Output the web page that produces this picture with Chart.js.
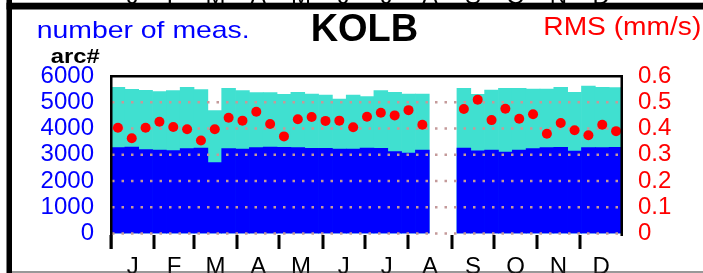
<!DOCTYPE html>
<html>
<head>
<meta charset="utf-8">
<script src="https://cdn.jsdelivr.net/npm/chart.js@4.4.0/dist/chart.umd.min.js"></script>
<style>
  html, body { margin: 0; padding: 0; background: #fff; }
  #wrap { width: 703px; height: 273px; position: relative; }
</style>
</head>
<body>
<div id="wrap"><canvas id="kolbChart"></canvas></div>
<script>
// 37 bins of ~10 days across the year, bins 24-25 have no data
const binLabels = ['1', '2', '3', '4', '5', '6', '7', '8', '9', '10', '11', '12', '13', '14', '15', '16', '17', '18', '19',
    '20', '21', '22', '23', '24', '25', '26', '27', '28', '29', '30', '31', '32', '33', '34', '35', '36', '37'];

// total number of measurements (turquoise)
const totalMeas = [5570, 5494, 5456, 5410, 5448, 5570, 5486, 4679, 5532, 5441, 5372, 5372, 5304, 5380, 5315, 5277, 5124, 5277, 5212,
    5441, 5380, 5315, 5315, null, null, 5532, 5304, 5467, 5532, 5532, 5505, 5505, 5570, 5380, 5620, 5570, 5555];

// measurements per arc (blue)
const arcMeas = [3277, 3296, 3200, 3181, 3162, 3239, 3258, 2705, 3239, 3220, 3269, 3296, 3284, 3269, 3246, 3246, 3220, 3220, 3258,
    3246, 3117, 3059, 3174, null, null, 3258, 3151, 3181, 3105, 3181, 3231, 3269, 3284, 3143, 3269, 3269, 3284];

// RMS in mm/s (red dots)
const rmsValues = [0.403, 0.363, 0.403, 0.426, 0.406, 0.397, 0.354, 0.397, 0.441, 0.430, 0.464, 0.417, 0.370, 0.435, 0.444, 0.429, 0.430, 0.405, 0.445,
    0.460, 0.450, 0.470, 0.414, null, null, 0.474, 0.510, 0.432, 0.475, 0.437, 0.454, 0.380, 0.421, 0.393, 0.374, 0.414, 0.390];

// month axis
const monthLetters = ['J', 'F', 'M', 'A', 'M', 'J', 'J', 'A', 'S', 'O', 'N', 'D'];
const monthStartDay = [0, 31, 59, 90, 120, 151, 181, 212, 243, 273, 304, 334];
const monthMidDay = [15.5, 45, 74.5, 105, 135.5, 166, 196.5, 227.5, 258, 288.5, 319, 349.5];

// tick labels
const leftTicks = [0, 1000, 2000, 3000, 4000, 5000, 6000];
const rightTicks = [0, 0.1, 0.2, 0.3, 0.4, 0.5, 0.6];

Chart.defaults.font.family = "'Liberation Sans', Arial, sans-serif";
Chart.defaults.font.size = 24;

const FONT = "'Liberation Sans', Arial, sans-serif";

// text squeezed/stretched to a given width
function drawText(ctx, text, font, color, x, y, width) {
    ctx.save();
    ctx.font = font;
    ctx.fillStyle = color;
    ctx.textBaseline = 'alphabetic';
    ctx.textAlign = 'left';
    const w = ctx.measureText(text).width;
    ctx.translate(x, y);
    ctx.scale(width / w, 1);
    ctx.fillText(text, 0, 0);
    ctx.restore();
}

const panelPlugin = {
    id: 'panel',
    afterDatasetDraw(chart, args) {
        // dotted grid goes over the bars but under the dots
        if (args.index !== 1) return;
        const ctx = chart.ctx;
        const area = chart.chartArea;
        const y = chart.scales.y;
        ctx.save();
        ctx.strokeStyle = '#c49a9a';
        ctx.lineWidth = 2.5;
        ctx.setLineDash([2.5, 7]);
        leftTicks.forEach(v => {
            if (v >= 6000) return;
            const py = y.getPixelForValue(v);
            ctx.beginPath();
            ctx.moveTo(area.left + 1, py);
            ctx.lineTo(area.right, py);
            ctx.stroke();
        });
        ctx.restore();
    },
    afterDraw(chart) {
        const ctx = chart.ctx;
        const area = chart.chartArea;
        const xm = chart.scales.xm;

        // plot frame
        ctx.save();
        ctx.fillStyle = '#000';
        ctx.fillRect(area.left - 1, area.top - 1, area.right - area.left + 1, 2.5);
        ctx.fillRect(area.left - 1, area.top - 1, 2.5, 250 - area.top);
        ctx.fillRect(area.right - 2.5, area.top - 1, 2.5, 237 - area.top);
        ctx.restore();

        // month letters of the panel above, only their feet are visible
        ctx.save();
        ctx.font = '24px ' + FONT;
        ctx.fillStyle = '#000';
        ctx.textAlign = 'center';
        ctx.textBaseline = 'alphabetic';
        monthMidDay.forEach((d, i) => {
            ctx.fillText(monthLetters[i], xm.getPixelForValue(d), 3.5);
        });
        ctx.restore();

        // panel border
        ctx.save();
        ctx.fillStyle = '#000';
        ctx.fillRect(6.5, 2.7, 703, 6.8);
        ctx.fillRect(6.5, 0, 5.5, 273);
        ctx.fillStyle = '#333';
        ctx.fillRect(12, 271.5, 691, 1);
        ctx.restore();

        // titles
        drawText(ctx, 'number of meas.', '24px ' + FONT, '#0000ff', 36.7, 38, 213);
        drawText(ctx, 'KOLB', 'bold 38px ' + FONT, '#000', 310.7, 40.7, 107.5);
        drawText(ctx, 'RMS (mm/s)', '26px ' + FONT, '#ff0000', 543.3, 35, 158);
        drawText(ctx, 'arc#', 'bold 21px ' + FONT, '#000', 50.7, 62.7, 49);

        // month boundary ticks below the plot
        ctx.save();
        ctx.fillStyle = '#000';
        monthStartDay.forEach(d => {
            const px = Math.round(xm.getPixelForValue(d));
            ctx.fillRect(px - 1.5, 235, 3, 14);
        });
        ctx.restore();
    }
};

new Chart(document.getElementById('kolbChart'), {
    data: {
        labels: binLabels,
        datasets: [
            {
                type: 'bar',
                label: 'number of meas.',
                data: totalMeas,
                backgroundColor: '#40e0d0',
                borderWidth: 0,
                grouped: false,
                barPercentage: 1,
                categoryPercentage: 1,
                order: 3,
                xAxisID: 'x',
                yAxisID: 'y'
            },
            {
                type: 'bar',
                label: 'arc#',
                data: arcMeas,
                backgroundColor: '#0000ff',
                borderWidth: 0,
                grouped: false,
                barPercentage: 1,
                categoryPercentage: 1,
                order: 2,
                xAxisID: 'x',
                yAxisID: 'y'
            },
            {
                type: 'line',
                label: 'RMS (mm/s)',
                data: rmsValues,
                showLine: false,
                pointRadius: 5,
                pointHoverRadius: 5,
                pointBorderWidth: 0,
                pointBackgroundColor: '#ff0000',
                borderColor: '#ff0000',
                order: 1,
                xAxisID: 'x',
                yAxisID: 'y1'
            }
        ]
    },
    options: {
        responsive: true,
        maintainAspectRatio: false,
        animation: false,
        events: [],
        layout: { padding: { top: 76, left: 0, right: 0, bottom: 0 } },
        plugins: {
            legend: { display: false },
            tooltip: { enabled: false }
        },
        scales: {
            x: {
                type: 'category',
                display: false,
                offset: true
            },
            xm: {
                type: 'linear',
                position: 'bottom',
                min: 0,
                max: 365,
                afterBuildTicks: function(scale) {
                    scale.ticks = monthMidDay.map(v => ({ value: v }));
                },
                afterFit: function(scale) {
                    scale.height = 39.5;
                },
                border: { display: false },
                grid: { display: false, drawTicks: false },
                ticks: {
                    autoSkip: false,
                    maxRotation: 0,
                    padding: 19,
                    color: '#000',
                    font: { size: 24 },
                    callback: function(value) {
                        const i = monthMidDay.indexOf(value);
                        return i >= 0 ? monthLetters[i] : '';
                    }
                }
            },
            y: {
                type: 'linear',
                position: 'left',
                min: 0,
                max: 6000,
                afterBuildTicks: function(scale) {
                    scale.ticks = leftTicks.map(v => ({ value: v }));
                },
                afterFit: function(scale) {
                    scale.width = 111;
                },
                border: { display: false },
                grid: { display: false, drawTicks: false },
                ticks: {
                    autoSkip: false,
                    color: '#0000ff',
                    padding: 17,
                    font: { size: 24 },
                    callback: v => String(v)
                }
            },
            y1: {
                type: 'linear',
                position: 'right',
                min: 0,
                max: 0.6,
                afterBuildTicks: function(scale) {
                    scale.ticks = rightTicks.map(v => ({ value: v }));
                },
                afterFit: function(scale) {
                    scale.width = 80;
                },
                border: { display: false },
                grid: { display: false, drawTicks: false },
                ticks: {
                    autoSkip: false,
                    color: '#ff0000',
                    padding: 15,
                    font: { size: 24 },
                    callback: v => String(v)
                }
            }
        }
    },
    plugins: [panelPlugin]
});
</script>
</body>
</html>
